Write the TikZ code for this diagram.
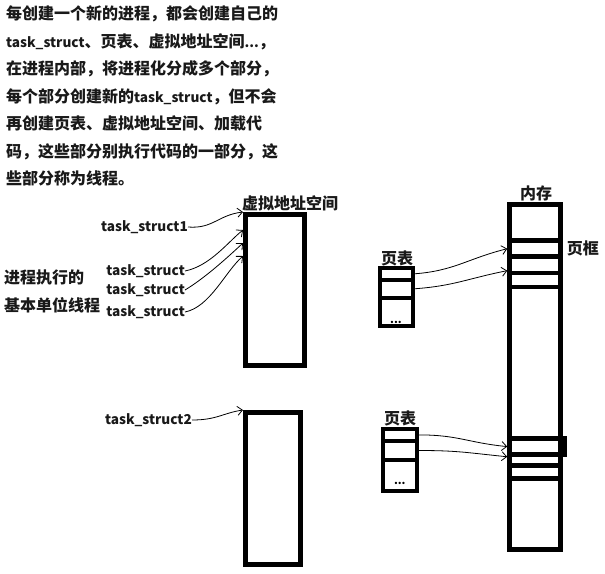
\documentclass[tikz,border=0pt]{standalone}
\usepackage{fontspec}
\setmainfont{Noto Sans CJK SC}
\usetikzlibrary{arrows.meta,positioning}
\newcommand\lat[1]{{\fontsize{13.6}{27.5}\selectfont #1}}
\tikzset{
  txt/.style={font=\bfseries\fontsize{16}{18}\selectfont, inner sep=0pt, text=black!90},
  para/.style={font=\bfseries\fontsize{16}{27.5}\selectfont, inner sep=0pt, align=left, text=black!90},
  kasten/.style={draw, line width=5pt, inner sep=0pt},
  zelle/.style={draw, line width=4pt, inner sep=0pt},
  rahmen/.style={draw, line width=4.5pt, inner sep=0pt},
  punkte/.style={font=\bfseries\fontsize{11}{12}\selectfont, inner sep=0pt},
  pfeil/.style={-{Straight Barb[length=5pt,width=9pt]}, line width=0.8pt}
}

\begin{document}
\begin{tikzpicture}[x=1pt,y=-1pt]
\useasboundingbox (0,0) rectangle (605,573);
% Erklaerung oben links
\node[para, anchor=north west] (info) at (6,5.5) {每创建一个新的进程，都会创建自己的\\\lat{task\_struct}、页表、虚拟地址空间\lat{...}，\\在进程内部，将进程化分成多个部分，\\每个部分创建新的\lat{task\_struct}，但不会\\再创建页表、虚拟地址空间、加载代\\码，这些部分别执行代码的一部分，这\\些部分称为线程。};
\node[para, anchor=west, font=\bfseries\fontsize{16}{28}\selectfont] (einheit) at (4,291.5) {进程执行的\\基本单位线程};
% virtuelle Adressraeume
\node[kasten, minimum width=59pt, minimum height=151pt] (vas1) at (275,290) {};
\node[kasten, minimum width=55pt, minimum height=152pt] (vas2) at (273,488.5) {};
\node[txt] (vaslbl) at (290,203) {虚拟地址空间};
% Speicher
\node[kasten, minimum width=51pt, minimum height=345pt] (mem) at (535,377) {};
\node[txt] (memlbl) at (536,193) {内存};
\node[rahmen, minimum width=51pt, minimum height=16pt] (fa1) at (535,248.7) {};
\node[rahmen, minimum width=51pt, minimum height=14.2pt] (fa2) at (535,280) {};
\node[rahmen, minimum width=55pt, minimum height=15.8pt] (fb1) at (537,446.6) {};
\node[rahmen, minimum width=51pt, minimum height=13.4pt] (fb2) at (535,472) {};
\node[txt, right=4pt of fa1] (frlbl) {页框};
% Seitentabellen
\node[zelle, minimum width=33pt, minimum height=12.5pt] (ta1) at (396,273.8) {};
\node[zelle, minimum width=33pt, minimum height=17.5pt] (ta2) at (396,288.8) {};
\node[zelle, minimum width=33pt, minimum height=28pt] (ta3) at (396,311.6) {};
\node[punkte, above=4pt of ta3.south] (pa) {...};
\node[txt] (talbl) at (397,258) {页表};
\node[zelle, minimum width=33.5pt, minimum height=12.3pt] (tb1) at (399.8,434.9) {};
\node[zelle, minimum width=33.5pt, minimum height=19pt] (tb2) at (399.8,450.5) {};
\node[zelle, minimum width=33.5pt, minimum height=31pt] (tb3) at (399.8,475.5) {};
\node[punkte, above=8pt of tb3.south] (pb) {...};
\node[txt] (tblbl) at (400,418) {页表};
% task_struct
\node[txt, anchor=east] (ts1) at (188,227) {\lat{task\_struct1}};
\node[txt, anchor=east] (tsa) at (185,271) {\lat{task\_struct}};
\node[txt, anchor=east] (tsb) at (185,290) {\lat{task\_struct}};
\node[txt, anchor=east] (tsc) at (185,312) {\lat{task\_struct}};
\node[txt, anchor=east] (ts2) at (192,420) {\lat{task\_struct2}};
\coordinate (ea) at ([yshift=-18pt]vas1.north west);
\coordinate (eb) at ([yshift=-31pt]vas1.north west);
\coordinate (ec) at ([yshift=-44pt]vas1.north west);
\draw[pfeil] (ts1.east) .. controls +(25,2) and +(-25,3) .. (vas1.north west);
\draw[pfeil] (tsa.east) .. controls +(25,-5) and +(-15,12) .. (ea);
\draw[pfeil] (tsb.east) .. controls +(20,-12) and +(-15,14) .. (eb);
\draw[pfeil] (tsc.east) .. controls +(25,-5) and +(-18,16) .. (ec);
\draw[pfeil] (ts2.east) .. controls +(25,0) and +(-20,3) .. (vas2.north west);
% Seitentabelle -> Seitenrahmen
\draw[pfeil] (ta1.east) .. controls +(40,-3) and +(-40,10) .. (fa1.west);
\draw[pfeil] (ta2.east) .. controls +(40,-3) and +(-40,8) .. (fa2.north west);
\draw[pfeil] (tb1.east) .. controls +(40,0) and +(-40,-4) .. (fb1.west);
\draw[pfeil] (tb2.east) .. controls +(40,0) and +(-40,-4) .. (fb1.south west);
\end{tikzpicture}
\end{document}
